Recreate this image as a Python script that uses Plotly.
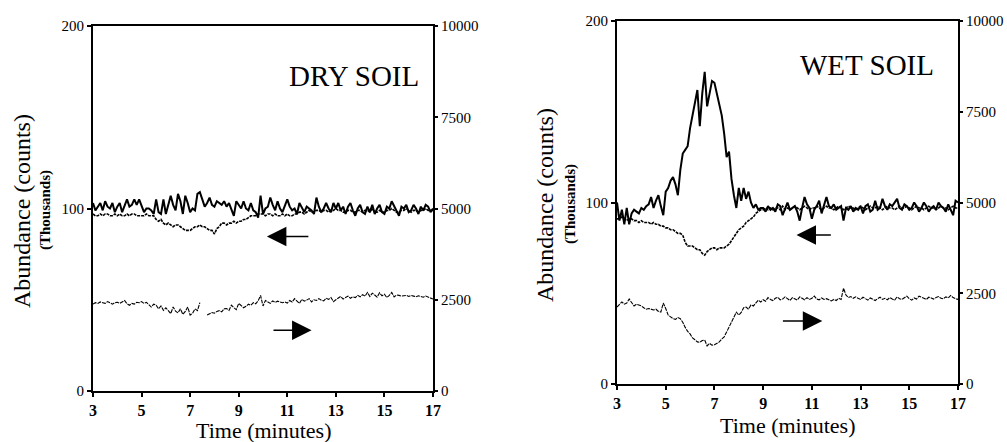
import plotly.graph_objects as go

W, H = 1007, 442

# Sampling times (minutes), 0.1 min spacing
time_min = [round(3 + 0.1 * i, 1) for i in range(141)]

# ---------------- DRY SOIL ----------------
# Solid line, left axis (thousands of counts)
dry_total = [
    103, 99, 101, 103, 99, 104, 101, 100, 103, 98,
    101, 103, 98, 102, 105, 101, 102, 105, 102, 105,
    101, 98, 100, 100, 99, 97, 105, 98, 97, 105,
    97, 102, 107, 102, 99, 108, 104, 97, 107, 103,
    98, 100, 99, 108, 109, 105, 101, 103, 106, 102,
    101, 104, 103, 102, 104, 101, 103, 99, 96, 104,
    102, 100, 104, 100, 99, 103, 99, 98, 95, 107,
    97, 100, 101, 106, 102, 99, 104, 100, 98, 102,
    105, 101, 99, 100, 97, 103, 100, 98, 101, 100,
    99, 97, 106, 101, 98, 100, 103, 100, 98, 103,
    100, 103, 99, 101, 97, 101, 103, 99, 96, 100,
    102, 98, 97, 101, 98, 102, 97, 100, 102, 98,
    97, 101, 100, 104, 101, 98, 96, 101, 100, 102,
    98, 99, 102, 100, 97, 101, 99, 102, 101, 98,
    100,
]
# Dashed line, left axis (arrow pointing left)
dry_left = [
    97, 96, 96, 97, 96, 97, 97, 96, 96, 97,
    96, 97, 96, 96, 97, 96, 97, 97, 96, 96,
    96, 96, 97, 96, 96, 96, 94, 93, 94, 92,
    91, 92, 91, 90, 91, 91, 90, 89, 88, 88,
    88, 89, 90, 90, 91, 90, 90, 89, 88, 88,
    86, 89, 90, 92, 92, 91, 92, 92, 93, 92,
    93, 93, 94, 94, 95, 96, 96, 96, 97, 97,
    97, 96, 97, 97, 96, 97, 96, 96, 97, 96,
    97, 96, 96, 97, 97, 98, 98, 97, 98, 99,
    98, 98, 99, 99, 98, 99, 99, 98, 99, 99,
    100, 99, 99, 98, 98, 99, 99, 98, 98, 99,
    99, 98, 99, 99, 98, 100, 98, 98, 99, 98,
    98, 99, 99, 100, 99, 98, 98, 99, 99, 100,
    99, 98, 99, 99, 98, 99, 99, 100, 99, 99,
    99,
]
# Thin line, right axis (counts, arrow pointing right)
dry_right = [
    2380, 2420, 2400, 2440, 2420, 2400, 2450, 2410, 2380, 2420,
    2430, 2400, 2450, 2480, 2390, 2350, 2400, 2380, 2430, 2420,
    2450, 2400, 2430, 2370, 2300, 2380, 2350, 2250, 2330, 2210,
    2280, 2200, 2120, 2300, 2190, 2140, 2250, 2100, 2180, 2300,
    2080, 2130, 2250, 2200, 2420, None, None, 2080, 2120, 2150,
    2130, 2180, 2200, 2170, 2250, 2260, 2210, 2350, 2280, 2230,
    2400, 2330, 2280, 2320, 2380, 2350, 2420, 2390, 2470, 2620,
    2330, 2480, 2450, 2400, 2470, 2430, 2460, 2450, 2420, 2440,
    2410, 2480, 2440, 2530, 2470, 2400, 2510, 2460, 2490, 2530,
    2440, 2500, 2480, 2530, 2490, 2470, 2540, 2510, 2560, 2450,
    2500, 2540, 2590, 2520, 2550, 2600, 2540, 2580, 2560, 2620,
    2580, 2640, 2600, 2700, 2590, 2680, 2630, 2570, 2690, 2610,
    2650, 2560, 2620, 2700, 2580, 2630, 2620, 2600, 2610, 2620,
    2590, 2620, 2600, 2580, 2610, 2590, 2570, 2600, 2580, 2550,
    2520,
]

# ---------------- WET SOIL ----------------
wet_total = [
    100, 90, 96, 88, 97, 88, 94, 96, 95, 94,
    97, 96, 98, 99, 103, 97, 101, 104, 98, 93,
    106, 108, 112, 114, 110, 104, 118, 127, 129, 131,
    141, 148, 156, 162, 142, 160, 172, 153, 160, 167,
    166, 160, 155, 148, 138, 125, 128, 113, 104, 97,
    108, 101, 108, 102, 106, 100, 97, 99, 96, 97,
    97, 95, 98, 96, 97, 95, 99, 98, 93, 97,
    100, 96, 97, 98, 95, 90, 97, 103, 99, 97,
    91, 96, 98, 101, 94, 99, 103, 98, 97, 99,
    96, 97, 98, 90, 97, 96, 98, 95, 97, 96,
    98, 94, 98, 99, 95, 96, 101, 96, 97, 102,
    98, 96, 99, 98, 100, 102, 97, 96, 99, 98,
    96, 97, 100, 98, 95, 97, 100, 98, 95, 97,
    98, 96, 100, 98, 97, 95, 99, 96, 93, 101,
    100,
]
wet_left = [
    91, 91, 92, 91, 90, 91, 91, 90, 90, 89,
    90, 89, 89, 89, 88, 89, 88, 88, 87, 87,
    86, 86, 85, 85, 84, 83, 83, 82, 78, 76,
    76, 76, 75, 74, 74, 72, 71, 73, 74, 75,
    75, 74, 75, 75, 75, 76, 77, 79, 81, 83,
    85, 86, 87, 89, 90, 91, 92, 94, 95, 96,
    96, 97, 96, 97, 96, 97, 97, 96, 98, 96,
    97, 96, 97, 98, 97, 96, 97, 98, 97, 96,
    97, 97, 98, 97, 96, 97, 98, 97, 97, 96,
    97, 98, 97, 96, 97, 98, 97, 97, 96, 97,
    98, 97, 96, 97, 98, 97, 97, 98, 97, 96,
    97, 98, 97, 97, 96, 97, 98, 97, 97, 98,
    97, 96, 97, 98, 97, 97, 96, 97, 98, 97,
    97, 96, 97, 98, 97, 97, 96, 97, 98, 97,
    97,
]
wet_right = [
    2120, 2180, 2260, 2200, 2230, 2340, 2260, 2150, 2200, 2180,
    2150, 2100, 2060, 2080, 2050, 2040, 2060, 2000, 1980, 2230,
    2080, 1900, 1850, 1800, 1780, 1830, 1800, 1700, 1560, 1450,
    1380, 1270, 1220, 1160, 1150, 1200, 1210, 1050, 1120, 1070,
    1080, 1110, 1160, 1240, 1300, 1430, 1560, 1680, 1830, 1980,
    1900, 1970, 2100, 2120, 2060, 2180, 2150, 2230, 2310, 2260,
    2320, 2280, 2380, 2330, 2300, 2360, 2390, 2320, 2340, 2400,
    2350, 2300, 2380, 2340, 2310, 2400, 2350, 2320, 2380, 2330,
    2360, 2420, 2340, 2320, 2370, 2330, 2350, 2310, 2290, 2330,
    2300, 2360, 2330, 2640, 2450, 2380, 2410, 2360, 2400, 2360,
    2330, 2390, 2350, 2310, 2370, 2340, 2300, 2350, 2390, 2330,
    2360, 2320, 2380, 2340, 2310, 2400, 2350, 2330, 2380, 2420,
    2350, 2310, 2370, 2340, 2420, 2380, 2360, 2330, 2390, 2370,
    2340, 2380, 2410, 2360, 2350, 2400, 2370, 2440, 2380, 2350,
    2330,
]

x_ticks = [3, 5, 7, 9, 11, 13, 15, 17]
left_ticks = [0, 100, 200]
right_ticks = [0, 2500, 5000, 7500, 10000]
right_tick_labels = ["0", "2500", "5000", "7500", "10000"]
panel_titles = ["DRY SOIL", "WET SOIL"]

SERIF = "Liberation Serif"

fig = go.Figure()

def add_panel(xa, ya, yr, total, left, right):
    fig.add_trace(go.Scatter(x=time_min, y=left, xaxis=xa, yaxis=ya, mode="lines",
                             line=dict(color="black", width=1.6, dash="3px,1px"),
                             connectgaps=False, hoverinfo="skip"))
    fig.add_trace(go.Scatter(x=time_min, y=right, xaxis=xa, yaxis=yr, mode="lines",
                             line=dict(color="black", width=1.1, dash="4px,1px"),
                             connectgaps=False, hoverinfo="skip"))
    fig.add_trace(go.Scatter(x=time_min, y=total, xaxis=xa, yaxis=ya, mode="lines",
                             line=dict(color="black", width=2),
                             hoverinfo="skip"))

add_panel("x", "y", "y3", dry_total, dry_left, dry_right)
add_panel("x2", "y2", "y4", wet_total, wet_left, wet_right)

def px_x(p):
    return p / W

def px_y(p):
    return 1 - p / H

xcommon = dict(range=[3, 17], tickvals=x_ticks, ticks="outside", ticklen=4, tickwidth=1.5,
               tickcolor="black", showline=True, linewidth=2, linecolor="black", mirror=True,
               showgrid=False, zeroline=False, automargin=False,
               tickfont=dict(family=SERIF, size=16, color="black", weight="bold"))
ycommon = dict(range=[0, 200], tickvals=left_ticks, ticks="outside", ticklen=4, tickwidth=1.5,
               tickcolor="black", showline=True, linewidth=2, linecolor="black",
               showgrid=False, zeroline=False, automargin=False,
               tickfont=dict(family=SERIF, size=15, color="black"))
yrcommon = dict(range=[0, 10000], tickvals=right_ticks, ticktext=right_tick_labels,
                ticks="outside", ticklen=3, tickwidth=1.5,
                tickcolor="black", showline=True, linewidth=2, linecolor="black",
                showgrid=False, zeroline=False, side="right", automargin=False,
                tickfont=dict(family=SERIF, size=15, color="black"))

fig.update_layout(
    width=W, height=H, margin=dict(l=0, r=0, t=0, b=0, autoexpand=False),
    paper_bgcolor="white", plot_bgcolor="white", showlegend=False,
    xaxis=dict(domain=[px_x(93), px_x(433)], anchor="y", **xcommon),
    yaxis=dict(domain=[px_y(391), px_y(26)], anchor="x", **ycommon),
    yaxis3=dict(overlaying="y", anchor="x", **yrcommon),
    xaxis2=dict(domain=[px_x(617), px_x(958)], anchor="y2", **xcommon),
    yaxis2=dict(domain=[px_y(384), px_y(21)], anchor="x2", **ycommon),
    yaxis4=dict(overlaying="y2", anchor="x2", **yrcommon),
)

annots = []
# Panel titles
annots.append(dict(text=panel_titles[0], x=px_x(421), y=px_y(76), xref="paper", yref="paper",
                   xanchor="right", yanchor="middle", showarrow=False,
                   font=dict(family=SERIF, size=29, color="black")))
annots.append(dict(text=panel_titles[1], x=px_x(936), y=px_y(65), xref="paper", yref="paper",
                   xanchor="right", yanchor="middle", showarrow=False,
                   font=dict(family=SERIF, size=29, color="black")))
# Axis titles
for cx, cy, tx, ty, bx, by in [(22, 211, 45, 210, 263, 430), (545, 205, 570, 204, 787, 425)]:
    annots.append(dict(text="Abundance (counts)", x=px_x(cx), y=px_y(cy), xref="paper", yref="paper",
                       xanchor="center", yanchor="middle", textangle=-90, showarrow=False,
                       font=dict(family=SERIF, size=24, color="black")))
    annots.append(dict(text="(Thousands)", x=px_x(tx), y=px_y(ty), xref="paper", yref="paper",
                       xanchor="center", yanchor="middle", textangle=-90, showarrow=False,
                       font=dict(family=SERIF, size=15, color="black", weight="bold")))
    annots.append(dict(text="Time (minutes)", x=px_x(bx), y=px_y(by), xref="paper", yref="paper",
                       xanchor="center", yanchor="middle", showarrow=False,
                       font=dict(family=SERIF, size=22, color="black")))

# Arrows indicating which axis each trace belongs to
arrow_style = dict(text="", showarrow=True, arrowhead=2, arrowsize=2.6, arrowwidth=1.5,
                   arrowcolor="black")
annots.append(dict(x=10.16, y=84.7, ax=11.93, ay=84.7, xref="x", yref="y", axref="x", ayref="y", **arrow_style))
annots.append(dict(x=12.0, y=33.3, ax=10.37, ay=33.3, xref="x", yref="y", axref="x", ayref="y", **arrow_style))
annots.append(dict(x=10.37, y=82.1, ax=11.84, ay=82.1, xref="x2", yref="y2", axref="x2", ayref="y2", **arrow_style))
annots.append(dict(x=11.43, y=34.7, ax=9.75, ay=34.7, xref="x2", yref="y2", axref="x2", ayref="y2", **arrow_style))

fig.update_layout(annotations=annots)

fig.write_html("out.html")
